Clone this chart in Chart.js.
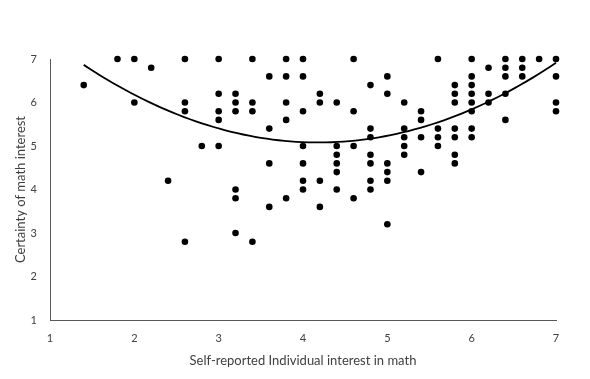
<!DOCTYPE html>
<html><head><meta charset="utf-8">
<script src="https://cdn.jsdelivr.net/npm/chart.js@4/dist/chart.umd.min.js"></script>
<style>html,body{margin:0;padding:0;background:#fff}canvas{display:block}</style>
</head><body>
<canvas id="c" width="590" height="379"></canvas>
<script>
// Self-reported individual interest in math (x) vs certainty of math interest (y)
const interestValues = [
  1.4,
  1.8,
  2.0, 2.0,
  2.2,
  2.4,
  2.6, 2.6, 2.6, 2.6,
  2.8,
  3.0, 3.0, 3.0, 3.0, 3.0,
  3.2, 3.2, 3.2, 3.2, 3.2, 3.2,
  3.4, 3.4, 3.4, 3.4,
  3.6, 3.6, 3.6, 3.6,
  3.8, 3.8, 3.8, 3.8, 3.8,
  4.0, 4.0, 4.0, 4.0, 4.0, 4.0, 4.0,
  4.2, 4.2, 4.2, 4.2,
  4.4, 4.4, 4.4, 4.4, 4.4, 4.4,
  4.6, 4.6, 4.6, 4.6,
  4.8, 4.8, 4.8, 4.8, 4.8, 4.8, 4.8,
  5.0, 5.0, 5.0, 5.0, 5.0, 5.0,
  5.2, 5.2, 5.2, 5.2, 5.2,
  5.4, 5.4, 5.4, 5.4,
  5.6, 5.6, 5.6, 5.6,
  5.8, 5.8, 5.8, 5.8, 5.8, 5.8, 5.8,
  6.0, 6.0, 6.0, 6.0, 6.0, 6.0, 6.0, 6.0,
  6.2, 6.2, 6.2,
  6.4, 6.4, 6.4, 6.4, 6.4,
  6.6, 6.6, 6.6,
  6.8,
  7.0, 7.0, 7.0, 7.0
];
const certaintyValues = [
  6.4,
  7.0,
  7.0, 6.0,
  6.8,
  4.2,
  7.0, 6.0, 5.8, 2.8,
  5.0,
  7.0, 6.2, 5.8, 5.6, 5.0,
  6.2, 6.0, 5.8, 4.0, 3.8, 3.0,
  7.0, 6.0, 5.8, 2.8,
  6.6, 5.4, 4.6, 3.6,
  7.0, 6.6, 6.0, 5.6, 3.8,
  7.0, 6.6, 5.8, 5.0, 4.6, 4.2, 4.0,
  6.2, 6.0, 4.2, 3.6,
  6.0, 5.0, 4.8, 4.6, 4.4, 4.0,
  7.0, 5.8, 5.0, 3.8,
  6.4, 5.4, 5.2, 4.8, 4.6, 4.2, 4.0,
  6.6, 6.2, 4.6, 4.4, 4.2, 3.2,
  6.0, 5.4, 5.2, 5.0, 4.8,
  5.8, 5.6, 5.2, 4.4,
  7.0, 5.4, 5.2, 5.0,
  6.4, 6.2, 6.0, 5.4, 5.2, 4.8, 4.6,
  7.0, 6.6, 6.4, 6.2, 6.0, 5.8, 5.4, 5.2,
  6.8, 6.2, 6.0,
  7.0, 6.8, 6.6, 6.2, 5.6,
  7.0, 6.8, 6.6,
  7.0,
  7.0, 6.6, 6.0, 5.8
];
const xTicks = [1, 2, 3, 4, 5, 6, 7];
const yTicks = [1, 2, 3, 4, 5, 6, 7];
const xTitle = 'Self-reported Individual interest in math';
const yTitle = 'Certainty of math interest';

const points = interestValues.map((x, i) => ({x: x, y: certaintyValues[i]}));

// Polynomial (order 2) least-squares trendline computed from the observations
function quadFit(xs, ys) {
  let s = [0,0,0,0,0], t = [0,0,0];
  for (let i = 0; i < xs.length; i++) {
    let p = 1;
    for (let k = 0; k < 5; k++) { s[k] += p; if (k < 3) t[k] += p * ys[i]; p *= xs[i]; }
  }
  const A = [[s[0],s[1],s[2],t[0]],[s[1],s[2],s[3],t[1]],[s[2],s[3],s[4],t[2]]];
  for (let c = 0; c < 3; c++) {
    for (let r = c + 1; r < 3; r++) {
      const f = A[r][c] / A[c][c];
      for (let k = c; k < 4; k++) A[r][k] -= f * A[c][k];
    }
  }
  const b = [0,0,0];
  for (let r = 2; r >= 0; r--) {
    let v = A[r][3];
    for (let k = r + 1; k < 3; k++) v -= A[r][k] * b[k];
    b[r] = v / A[r][r];
  }
  return b;
}
const coef = quadFit(interestValues, certaintyValues);
const xMin = Math.min(...interestValues), xMax = Math.max(...interestValues);
const trend = [];
for (let i = 0; i <= 80; i++) {
  const x = xMin + (xMax - xMin) * i / 80;
  trend.push({x: x, y: coef[0] + coef[1]*x + coef[2]*x*x});
}

const textColor = '#404040';
const axisColor = '#595959';
const fontFam = 'Lato, "Open Sans", sans-serif';

new Chart(document.getElementById('c'), {
  type: 'scatter',
  data: {
    datasets: [
      { label: 'Observations', data: points, pointRadius: 3.3, pointHoverRadius: 3.3,
        pointBackgroundColor: '#000', pointBorderWidth: 0, showLine: false, clip: false, order: 1 },
      { type: 'line', label: 'Trend', data: trend, borderColor: '#000', borderWidth: 1.8,
        pointRadius: 0, tension: 0, fill: false, clip: false, order: 0 }
    ]
  },
  options: {
    responsive: false, animation: false,
    layout: { padding: { top: 59, right: 34, left: 0, bottom: 0 } },
    plugins: { legend: { display: false }, tooltip: { enabled: false } },
    scales: {
      x: {
        type: 'linear', min: 1, max: 7,
        afterBuildTicks: s => { s.ticks = xTicks.map(v => ({value: v})); },
        ticks: { padding: 12, color: textColor, font: { family: fontFam, size: 11 } },
        grid: { display: false, drawTicks: false },
        border: { display: true, color: axisColor, width: 1 },
        title: { display: true, text: xTitle, color: textColor,
                 font: { family: fontFam, size: 13 }, padding: { top: 0, bottom: 10 } },
        afterFit: s => { s.height = 59; }
      },
      y: {
        type: 'linear', min: 1, max: 7,
        afterBuildTicks: s => { s.ticks = yTicks.map(v => ({value: v})); },
        ticks: { padding: 13, color: textColor, font: { family: fontFam, size: 11 } },
        grid: { display: false, drawTicks: false },
        border: { display: true, color: axisColor, width: 1 },
        title: { display: true, text: yTitle, color: textColor,
                 font: { family: fontFam, size: 13 }, padding: { top: 13, bottom: 0 } },
        afterFit: s => { s.width = 50; }
      }
    }
  }
});
</script>
</body></html>
